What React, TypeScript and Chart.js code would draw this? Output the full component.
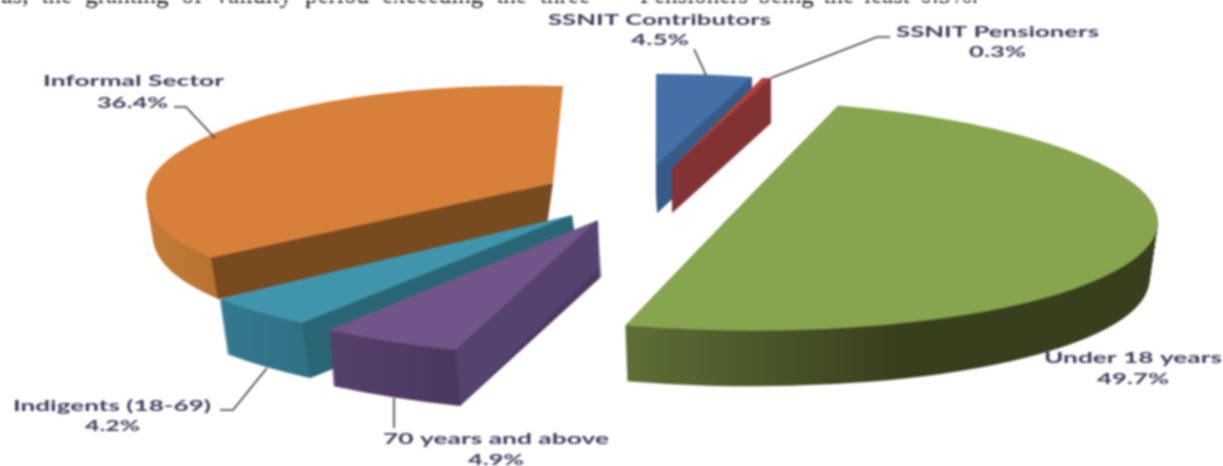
import React, { useEffect, useRef } from "react";
import { Chart, registerables } from "chart.js";

Chart.register(...registerables);

// ---- data ----
const categories = ["SSNIT Contributors", "SSNIT Pensioners", "Under 18 years", "70 years and above", "Indigents (18-69)", "Informal Sector"];
const shares = [4.5, 0.3, 49.7, 4.9, 4.2, 36.4];
const shareLabels = ["4.5%", "0.3%", "49.7%", "4.9%", "4.2%", "36.4%"];
const faceColors = ["#4470a7", "#b5403c", "#87a44e", "#71558a", "#4095ad", "#d7803a"];
const outerWallColors = [["#365b86", "#365b86"], ["#823232", "#823232"], ["#5e6f36", "#383f1c"], ["#55406a", "#4b385e"], ["#34798f", "#307085"], ["#c27b38", "#b87230"]];
const radialWallColors = ["#365b86", "#823232", "#5e6f36", "#56426e", "#2a6675", "#774a20"];
const bodyTextLeft = "us, the granting of validity period exceeding the three";
const bodyTextRight = "Pensioners being the least 0.3%.";

// ---- layout of the tilted, exploded pieces (back to front paint order below) ----
type P = [number, number];
type Frame = {
  apex: P; start?: P; end?: P; axis?: P; cross?: P; pin?: P; foot?: P; depth: P; shrink: number;
  wall: "start" | "end" | null; grad: P; sweep?: number; straightChord?: boolean;
};
const frames: Frame[] = [
  { apex: [657, 165], start: [656, 74], end: [752, 77], depth: [0, 48], shrink: 1, wall: "end", grad: [650, 760] },
  { apex: [672, 168], start: [762, 78], end: [771, 78], depth: [0, 45], shrink: 1, wall: "end", grad: [670, 775] },
  { apex: [727.5, 215.2], axis: [417, 35], cross: [-106.5, 110], depth: [0, 58], shrink: 0.98, wall: null, grad: [625, 900], straightChord: true },
  { apex: [598, 220], start: [456, 350], end: [329, 330], foot: [599, 269], depth: [4, 56], shrink: 1, wall: "start", grad: [330, 460] },
  { apex: [572, 215], start: [302, 323], end: [219, 299], depth: [8, 55], shrink: 1, wall: "start", grad: [220, 310] },
  { apex: [519, 195], start: [211, 258], end: [563, 86], pin: [553, 183], foot: [547, 225], depth: [7, 41], shrink: 1, wall: "start", grad: [147, 220], sweep: 0.5 },
];
const paintOrder = [5, 0, 1, 2, 4, 3];

// ---- label layout: [left, right, centre y] per text line ----
const nameBoxes: [number, number, number][] = [[548, 771, 20], [896, 1099, 32], [1044, 1222, 358], [383, 609, 439], [13, 211, 406], [43, 224, 81]];
const valueBoxes: [number, number, number][] = [[631, 689, 40], [969, 1026, 52], [1097, 1169, 379], [468, 524, 460], [85, 140, 426], [97, 168, 103]];
const leaders: P[][] = [
  [[694, 49], [706, 75]],
  [[890, 37], [877, 37], [771, 78]],
  [],
  [[394, 398], [394, 428]],
  [[220, 410], [233, 410], [267, 368]],
  [[174, 107], [186, 107], [215, 138]],
];

function basis(f: Frame, half: number) {
  if (f.axis && f.cross) return { v: f.axis, u: f.cross };
  const s = f.start as P, e = f.end as P;
  const c = Math.cos(half), sn = Math.sin(half);
  return {
    v: [((s[0] + e[0]) / 2 - f.apex[0]) / c, ((s[1] + e[1]) / 2 - f.apex[1]) / c] as P,
    u: [(e[0] - s[0]) / (2 * sn), (e[1] - s[1]) / (2 * sn)] as P,
  };
}

const tiltedPie = {
  id: "tiltedPie",
  beforeDatasetDraw(chart: any, args: any) {
    const ctx: CanvasRenderingContext2D = chart.ctx;
    const arcs = args.meta.data;
    for (const i of paintOrder) {
      const el = arcs[i];
      const f = frames[i];
      const half = (el.endAngle - el.startAngle) / 2;
      const m = (el.endAngle + el.startAngle) / 2;
      const { v, u } = basis(f, half);
      const R = el.outerRadius;
      const cm = Math.cos(m), sm = Math.sin(m);
      const A = (v[0] * cm - u[0] * sm) / R, C = (v[0] * sm + u[0] * cm) / R;
      const B = (v[1] * cm - u[1] * sm) / R, D = (v[1] * sm + u[1] * cm) / R;
      const place = (scale: number, dx: number, dy: number) => {
        ctx.translate(f.apex[0] + dx, f.apex[1] + dy);
        ctx.transform(A * scale, B * scale, C * scale, D * scale, 0, 0);
        ctx.translate(-el.x, -el.y);
      };
      const ha = f.pin ?? f.apex;
      const cs = Math.cos(half), sn = Math.sin(half);
      const edgeS: P = [f.apex[0] + v[0] * cs - u[0] * sn, f.apex[1] + v[1] * cs - u[1] * sn];
      const edgeE: P = [f.apex[0] + v[0] * cs + u[0] * sn, f.apex[1] + v[1] * cs + u[1] * sn];

      ctx.save();
      if (f.straightChord) {
        const dx = edgeE[0] - edgeS[0], dy = edgeE[1] - edgeS[1];
        ctx.beginPath();
        ctx.moveTo(edgeS[0] - dx, edgeS[1] - dy);
        ctx.lineTo(edgeE[0] + dx, edgeE[1] + dy);
        ctx.lineTo(edgeE[0] + dx + v[0] * 3, edgeE[1] + dy + v[1] * 3);
        ctx.lineTo(edgeS[0] - dx + v[0] * 3, edgeS[1] - dy + v[1] * 3);
        ctx.closePath();
        ctx.clip();
      }

      const grad = ctx.createLinearGradient(f.grad[0], 0, f.grad[1], 0);
      grad.addColorStop(0, outerWallColors[i][0]);
      grad.addColorStop(1, outerWallColors[i][1]);
      const steps = Math.ceil(Math.abs(f.depth[1]));
      const sweepEnd = el.startAngle + (el.endAngle - el.startAngle) * (f.sweep ?? 1);
      for (let k = steps; k >= 1; k--) {
        const t = k / steps;
        ctx.save();
        place(1 - (1 - f.shrink) * t, f.depth[0] * t, f.depth[1] * t);
        ctx.beginPath();
        ctx.moveTo(el.x, el.y);
        ctx.arc(el.x, el.y, R, el.startAngle, sweepEnd);
        ctx.closePath();
        ctx.restore();
        ctx.fillStyle = grad;
        ctx.fill();
      }

      // top face, drawn by the library's own arc element
      ctx.save();
      place(1, 0, 0);
      el.draw(ctx);
      ctx.restore();
      ctx.restore();

      if (f.pin) {
        ctx.beginPath();
        ctx.moveTo(edgeS[0], edgeS[1]);
        ctx.lineTo(f.pin[0], f.pin[1]);
        ctx.lineTo(edgeE[0], edgeE[1]);
        ctx.closePath();
        ctx.fillStyle = faceColors[i];
        ctx.fill();
      }
      if (f.wall) {
        const p = f.wall === "start" ? edgeS : edgeE;
        const foot: P = f.foot ?? [ha[0] + f.depth[0], ha[1] + f.depth[1]];
        ctx.beginPath();
        ctx.moveTo(ha[0], ha[1]);
        ctx.lineTo(p[0], p[1]);
        ctx.lineTo(p[0] + f.depth[0], p[1] + f.depth[1]);
        ctx.lineTo(foot[0], foot[1]);
        ctx.closePath();
        ctx.fillStyle = radialWallColors[i];
        ctx.fill();
      }
    }
    return false;
  },
  afterDraw(chart: any) {
    const ctx: CanvasRenderingContext2D = chart.ctx;
    ctx.save();
    // running text cropped by the top edge: justified through word spacing
    ctx.fillStyle = "#111";
    ctx.textBaseline = "alphabetic";
    ctx.textAlign = "left";
    ctx.font = '25px "Liberation Serif"';
    const justify = (text: string, left: number, right: number, y: number) => {
      (ctx as any).wordSpacing = "0px";
      const w = ctx.measureText(text).width;
      const gaps = text.split(" ").length - 1;
      (ctx as any).wordSpacing = `${(right - left - w) / gaps}px`;
      ctx.fillText(text, left, y);
      (ctx as any).wordSpacing = "0px";
    };
    justify(bodyTextLeft, 0, 590, 3);
    justify(bodyTextRight, 640, 978, 3);
    // leader lines
    ctx.strokeStyle = "#3a3a3a";
    ctx.lineWidth = 1.6;
    for (const line of leaders) {
      if (!line.length) continue;
      ctx.beginPath();
      line.forEach((p, n) => (n ? ctx.lineTo(p[0], p[1]) : ctx.moveTo(p[0], p[1])));
      ctx.stroke();
    }
    // labels, stretched to the reference's line widths
    const fit = (text: string, left: number, right: number, y: number) => {
      const w = ctx.measureText(text).width;
      ctx.save();
      ctx.translate(left, y);
      ctx.scale((right - left) / w, 1);
      ctx.fillText(text, 0, 0);
      ctx.restore();
    };
    ctx.fillStyle = "#3a3d5c";
    ctx.font = "bold 16px Lato";
    ctx.textBaseline = "middle";
    categories.forEach((name, i) => {
      fit(name, nameBoxes[i][0], nameBoxes[i][1], nameBoxes[i][2]);
      fit(shareLabels[i], valueBoxes[i][0], valueBoxes[i][1], valueBoxes[i][2]);
    });
    ctx.restore();
  },
};

export default function App() {
  const ref = useRef<HTMLCanvasElement>(null);
  useEffect(() => {
    const chart = new Chart(ref.current as HTMLCanvasElement, {
      type: "pie",
      data: {
        labels: categories,
        datasets: [{ data: shares, backgroundColor: faceColors, borderWidth: 0 }],
      },
      options: {
        animation: false,
        responsive: false,
        layout: { padding: 0 },
        plugins: { legend: { display: false }, tooltip: { enabled: false } },
      },
      plugins: [tiltedPie],
    } as any);
    return () => chart.destroy();
  }, []);
  return (
    <div style={{ position: "absolute", left: 0, top: 0, width: 1223, height: 466, overflow: "hidden", background: "#fff" }}>
      <canvas ref={ref} width={1223} height={466} style={{ display: "block", filter: "blur(0.8px)" }} />
    </div>
  );
}
